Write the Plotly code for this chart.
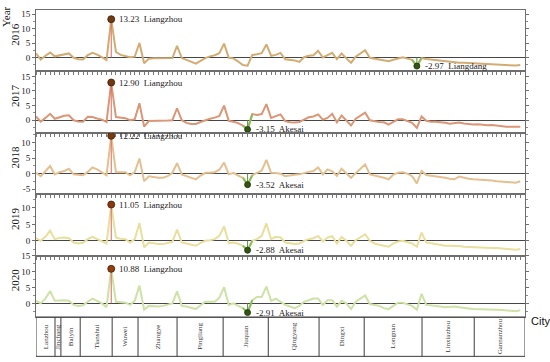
import plotly.graph_objects as go
from plotly.subplots import make_subplots

years = ["2016", "2017", "2018", "2019", "2020"]

v2016 = [1.4, -0.7, 0.6, 1.7, 0.4, 0.8, 1.1, 1.4, -0.1, -0.6, -0.7, 0.8, 1.6, 1.0, 0.1, -0.9, 13.23, 1.9, 0.9, 0.5,
         0.1, 0.3, 5.0, -2.0, -0.4, -0.3, -0.3, -0.1, -0.3, -0.2, 4.0, -0.2, -0.8, -1.4, -2.1, -1.2, -0.2, 0.4, 0.8, 1.5,
         4.8, -0.1, -0.3, -1.4, -2.6, -2.85, 0.9, 1.1, 1.5, 4.5, 0.6, 0.9, 1.6, -0.6, -0.8, -1.0, -1.5, 0.1, 0.6, 0.8,
         2.3, 0.0, 0.8, 1.6, -0.6, 1.4, -0.3, -1.8, 0.3, 1.5, 2.5, -0.1, -0.4, -0.7, -0.9, -1.3, -0.8, -0.3, 0.1, -0.4,
         -0.8, -2.97, -0.2, -0.5, -0.7, -0.9, -1.0, -1.1, -1.4, -1.7, -1.8, -1.8, -1.9, -2.0, -2.1, -2.2, -2.2, -2.3, -2.4, -2.5,
         -2.6, -2.6, -2.8, -2.6]
v2017 = [1.3, -0.5, 0.8, 2.2, 0.5, 1.0, 1.5, 1.7, 0.0, -0.4, -0.5, 1.2, 1.1, 0.6, 0.2, -0.6, 12.90, 1.1, 0.9, 0.7,
         0.0, 0.3, 5.8, -2.2, -0.3, -0.3, -0.3, -0.2, -0.1, 0.0, 4.1, 0.0, -0.9, -1.3, -1.3, -0.6, 0.0, 0.5, 0.9, 1.5,
         5.0, -0.2, -0.5, -1.0, -1.8, -3.15, 2.1, 1.8, 2.1, 5.5, 0.8, 1.5, 2.0, -0.3, -0.7, -0.8, -0.6, 0.2, 1.0, 1.3,
         2.0, 0.2, 0.8, 2.2, -0.7, 1.6, -0.2, -1.8, 0.5, 1.4, 2.6, 0.0, -0.4, -0.6, -0.7, -1.5, -0.6, 0.3, 0.3, -0.3,
         -0.9, -2.6, 1.3, -0.2, -0.5, -0.5, -0.6, -0.9, -1.2, -1.0, -0.8, -1.1, -1.3, -1.5, -1.4, -1.6, -1.7, -1.6, -1.8, -2.1,
         -2.2, -2.2, -2.3, -2.2]
v2018 = [0.3, -0.8, 0.8, 2.5, -0.2, 0.5, 0.9, 1.6, -0.2, -0.4, -0.5, 0.6, 2.0, 1.4, 0.4, -0.5, 12.22, 0.5, 0.5, 0.5,
         -0.5, 0.5, 4.9, -2.4, -0.8, -1.1, -1.3, -1.3, -0.8, 0.3, 3.4, -0.2, -0.8, -1.3, -1.8, -0.6, 0.3, 0.3, 0.5, 1.3,
         3.6, -0.2, 0.3, -0.6, -1.3, -3.52, -0.5, 0.3, 1.0, 4.5, 0.3, 0.2, 0.0, -0.8, -0.5, -0.3, -0.2, 0.3, 0.6, 0.9,
         2.0, -0.2, 1.4, 0.8, -0.7, 1.6, 0.2, -1.3, 0.2, 1.5, 3.0, -0.2, -0.5, -0.8, -1.3, -1.8, -0.3, 0.3, 0.5, 0.0,
         -0.8, -3.1, 0.9, -0.4, -0.6, -0.7, -1.0, -1.3, -1.6, -1.8, -0.9, -1.3, -1.6, -1.8, -1.9, -1.8, -2.0, -2.2, -2.4, -2.5,
         -2.6, -2.7, -2.9, -2.4]
v2019 = [0.8, 0.0, 1.2, 3.1, 0.5, 0.9, 1.0, 0.8, -0.5, -0.8, -0.6, 0.5, 1.2, 0.5, 0.0, -0.8, 11.05, 1.0, 0.6, 0.5,
         -0.5, 0.5, 5.4, -2.0, -0.5, -0.8, -1.0, -1.0, -0.7, -0.3, 3.4, -0.5, -0.8, -1.2, -1.5, -0.6, 0.0, 0.2, 0.5, 1.5,
         4.4, -0.8, -0.5, -0.9, -1.5, -2.88, 0.0, 0.5, 1.5, 5.3, 0.5, 1.2, 1.0, -0.5, -0.8, -1.0, -0.8, 0.0, 0.5, 0.8,
         1.5, -0.2, 1.0, 1.4, -0.8, 1.2, 0.0, -1.5, 0.2, 1.2, 2.0, 0.0, -0.8, -1.2, -1.5, -1.8, -0.8, -0.2, 0.0, -0.5,
         -0.8, -1.8, 2.5, -0.5, -0.8, -1.0, -1.2, -1.5, -1.5, -1.5, -1.6, -1.8, -1.9, -2.0, -2.0, -2.1, -2.1, -2.2, -2.2, -2.3,
         -2.5, -2.6, -2.7, -2.5]
v2020 = [0.8, 0.0, 1.5, 3.9, 0.8, 1.0, 1.0, 0.8, -0.5, -0.8, -0.6, 0.5, 1.5, 0.8, 0.0, -1.2, 10.88, 0.5, 0.3, 0.2,
         -0.5, 0.8, 5.6, -2.0, -0.8, -1.0, -1.0, -0.8, -0.5, 0.0, 3.8, -0.8, -1.0, -1.5, -1.8, -0.6, 0.5, 0.5, 0.5, 1.8,
         5.1, -0.5, 0.0, -0.8, -1.5, -2.91, 1.0, 2.0, 2.0, 5.3, 0.8, 1.5, 0.5, -0.5, -1.0, -1.5, -0.8, 0.5, 1.0, 1.5,
         1.5, -0.5, 1.0, 1.0, -1.0, 0.8, 0.0, -1.8, 0.5, 1.5, 2.5, -0.2, -0.5, -0.8, -1.5, -1.8, -0.8, 0.2, 0.2, -0.2,
         -0.8, -2.0, 3.0, -0.5, -0.6, -0.8, -1.0, -1.2, -1.1, -1.0, -1.2, -1.5, -1.6, -1.8, -1.8, -1.8, -1.9, -2.0, -2.0, -2.1,
         -2.2, -2.3, -2.5, -2.2]
series = [v2016, v2017, v2018, v2019, v2020]

max_names = ["Liangzhou", "Liangzhou", "Liangzhou", "Liangzhou", "Liangzhou"]
min_names = ["Liangdang", "Akesai", "Akesai", "Akesai", "Akesai"]

y_ranges = [[-4.8, 16.4], [-4.3, 16.7], [-6.6, 13.2], [-4.5, 14.2], [-4.3, 15.05]]
y_tickvals = [[0, 5, 10, 15], [0, 5, 10, 15], [-5, 0, 5, 10], [0, 5, 10], [0, 5, 10, 15]]
y_ticktext = [["0", "5", "10", "15"], ["0", "5", "10", "15"], ["-5", "0", "5", "10"], ["0", "5", "10"], ["0", "5", "10", "15"]]

cities = ["Lanzhou", "Jinchang", "Baiyin", "Tianshui", "Wuwei", "Zhangye", "Pingliang", "Jiuquan",
          "Qingyang", "Dingxi", "Longnan", "Linxiazhou", "Gannanzhou"]
city_bounds = [0, 4.04, 5.3, 9.4, 16.2, 21.7, 30.0, 39.8, 49.4, 60.2, 69.8, 82.1, 93.2, 104.0]

line_colors = ["rgb(210,172,115)", "rgb(218,150,118)", "rgb(228,192,145)", "rgb(233,222,155)", "rgb(205,226,165)"]
max_colors = ["rgb(110,60,15)", "rgb(115,55,15)", "rgb(120,60,15)", "rgb(140,55,15)", "rgb(150,60,15)"]
min_color = "rgb(50,85,15)"
green_seg = "rgb(135,190,90)"
serif = "Liberation Serif"

fig = make_subplots(rows=5, cols=1, shared_xaxes=True, vertical_spacing=0)

for k, vals in enumerate(series):
    r = k + 1
    xs = list(range(len(vals)))
    imax = max(range(len(vals)), key=lambda i: vals[i])
    imin = min(range(len(vals)), key=lambda i: vals[i])
    fig.add_trace(go.Scatter(x=xs, y=vals, mode="lines", line=dict(color=line_colors[k], width=2),
                             hoverinfo="skip"), row=r, col=1)
    seg = [i for i in (imin - 1, imin, imin + 1) if 0 <= i < len(vals)]
    fig.add_trace(go.Scatter(x=seg, y=[vals[i] for i in seg], mode="lines",
                             line=dict(color=green_seg, width=2), hoverinfo="skip"), row=r, col=1)
    fig.add_trace(go.Scatter(x=[imax, imax], y=[0, vals[imax]], mode="lines",
                             line=dict(color="rgb(215,105,95)", width=1), hoverinfo="skip"), row=r, col=1)
    fig.add_trace(go.Scatter(x=[imin, imin], y=[0, vals[imin]], mode="lines",
                             line=dict(color="rgb(100,140,70)", width=1), hoverinfo="skip"), row=r, col=1)
    fig.add_trace(go.Scatter(x=[imax], y=[vals[imax]], mode="markers",
                             marker=dict(color=max_colors[k], size=7, line=dict(color="rgb(60,30,10)", width=0.8))),
                  row=r, col=1)
    fig.add_trace(go.Scatter(x=[imin], y=[vals[imin]], mode="markers",
                             marker=dict(color=min_color, size=6, line=dict(color="rgb(30,50,10)", width=0.8))),
                  row=r, col=1)
    xref = "x" if r == 1 else f"x{r}"
    yref = "y" if r == 1 else f"y{r}"
    fig.add_annotation(x=imax, y=vals[imax], xref=xref, yref=yref, text=f"{vals[imax]:.2f}  {max_names[k]}",
                       showarrow=False, xanchor="left", xshift=6, font=dict(family=serif, size=9, color="#222"))
    fig.add_annotation(x=imin, y=vals[imin], xref=xref, yref=yref, text=f"{vals[imin]:.2f}  {min_names[k]}",
                       showarrow=False, xanchor="left", xshift=6, font=dict(family=serif, size=9, color="#222"))
    fig.add_annotation(x=0, y=0.5, xref="paper", yref=f"{yref} domain", text=years[k], textangle=-90,
                       showarrow=False, xanchor="center", yanchor="middle", xshift=-21, yshift=6,
                       font=dict(family=serif, size=11, color="#111"))
    fig.update_yaxes(row=r, col=1, range=y_ranges[k], tickvals=y_tickvals[k], ticktext=y_ticktext[k],
                     showline=True, linecolor="rgb(110,110,110)", linewidth=1, mirror="ticks",
                     ticks="outside", ticklen=3, tickcolor="rgb(110,110,110)",
                     minor=dict(dtick=2.5, ticks="outside", ticklen=2, tickcolor="rgb(140,140,140)"),
                     showgrid=False, zeroline=True, zerolinecolor="rgb(70,70,70)", zerolinewidth=1,
                     tickfont=dict(family=serif, size=9, color="#222"))
    fig.update_xaxes(row=r, col=1, range=[0, 104], showline=True, linecolor="rgb(110,110,110)", linewidth=1,
                     mirror=True, ticks="outside" if r < 5 else "", ticklen=3, tickcolor="rgb(120,120,120)",
                     tick0=0, dtick=1, showticklabels=False, showgrid=False, zeroline=False)

# city table below the panels
tb = -40 / 312
fig.add_shape(type="rect", xref="x5", yref="paper", x0=city_bounds[0], x1=city_bounds[-1], y0=tb, y1=0,
              line=dict(color="rgb(60,60,60)", width=1))
for b in city_bounds[1:-1]:
    fig.add_shape(type="line", xref="x5", yref="paper", x0=b, x1=b, y0=tb, y1=0,
                  line=dict(color="rgb(60,60,60)", width=1))
for name, a, b in zip(cities, city_bounds[:-1], city_bounds[1:]):
    fig.add_annotation(x=(a + b) / 2, y=tb / 2, xref="x5", yref="paper", text=name, textangle=-90,
                       showarrow=False, xanchor="center", yanchor="middle",
                       font=dict(family=serif, size=7, color="#333"))

fig.add_annotation(x=0, y=1, xref="paper", yref="paper", text="Year", textangle=-90, showarrow=False,
                   xanchor="center", yanchor="middle", xshift=-30, yshift=-7,
                   font=dict(family=serif, size=11, color="#111"))
fig.add_annotation(x=1, y=0, xref="paper", yref="paper", text="City", showarrow=False,
                   xanchor="center", yanchor="middle", xshift=15, yshift=-4,
                   font=dict(family="Liberation Sans", size=11, color="#111"))

fig.update_layout(width=550, height=362, margin=dict(l=36, r=25, t=5, b=45),
                  plot_bgcolor="white", paper_bgcolor="white", showlegend=False)

fig.write_html("out.html", config={"displayModeBar": False},
               post_script="document.body.style.margin='0';document.body.style.overflow='hidden';")
